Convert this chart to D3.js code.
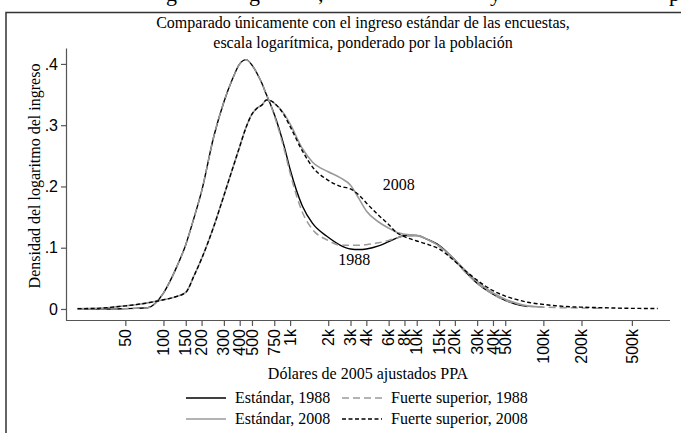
<!DOCTYPE html>
<html>
<head>
<meta charset="utf-8">
<script src="https://cdn.jsdelivr.net/npm/d3@7"></script>
<style>
  body { margin: 0; background: #fff; }
  svg { display: block; font-family: 'Liberation Serif', 'DejaVu Serif', serif; }
</style>
</head>
<body>
<div id="chart"></div>
<script>
// Income grid (2005 PPP dollars) shared by the density series
const income = [21, 30, 40, 50, 60, 75, 100, 125, 150, 175, 200, 250, 300, 350, 400, 450, 500, 550, 600, 650, 700, 750, 900,
  1000, 1250, 1500, 2000, 2500, 3000, 3500, 4000, 5000, 6000, 7000, 8000, 10000, 12000, 15000, 20000, 25000, 30000,
  40000, 50000, 60000, 75000, 100000, 150000, 200000, 300000, 500000, 800000];

// Estándar, 1988 (ends near 70k)
const std1988 = [0, 0, 0, 0.0005, 0.001, 0.002, 0.026, 0.065, 0.105, 0.150, 0.192, 0.282, 0.338, 0.375, 0.400, 0.407, 0.398, 0.384, 0.368, 0.350, 0.334, 0.318, 0.265,
  0.228, 0.168, 0.140, 0.117, 0.104, 0.098, 0.097, 0.098, 0.103, 0.110, 0.116, 0.120, 0.120, 0.114, 0.104, 0.080, 0.058, 0.042,
  0.024, 0.014, 0.008, 0.004];

// Fuerte superior, 1988
const top1988 = [0, 0, 0, 0.0005, 0.001, 0.002, 0.026, 0.065, 0.105, 0.150, 0.192, 0.282, 0.338, 0.375, 0.400, 0.407, 0.398, 0.384, 0.368, 0.350, 0.334, 0.316, 0.260,
  0.222, 0.158, 0.130, 0.112, 0.104, 0.104, 0.104, 0.105, 0.108, 0.112, 0.116, 0.119, 0.120, 0.114, 0.102, 0.078, 0.057, 0.042,
  0.024, 0.014, 0.009, 0.005, 0.003, 0.002, 0.0015, 0.001];

// Estándar, 2008 (ends near 100k)
const std2008 = [0.0005, 0.001, 0.003, 0.005, 0.007, 0.010, 0.015, 0.020, 0.027, 0.055, 0.082, 0.135, 0.185, 0.228, 0.265, 0.297, 0.318, 0.328, 0.333, 0.341, 0.340, 0.336, 0.318,
  0.302, 0.262, 0.240, 0.224, 0.214, 0.202, 0.180, 0.160, 0.142, 0.132, 0.125, 0.122, 0.120, 0.114, 0.103, 0.080, 0.060, 0.045,
  0.026, 0.016, 0.010, 0.005, 0.003];

// Fuerte superior, 2008
const top2008 = [0.0005, 0.001, 0.003, 0.005, 0.007, 0.010, 0.015, 0.020, 0.027, 0.055, 0.082, 0.135, 0.185, 0.228, 0.265, 0.297, 0.318, 0.328, 0.333, 0.341, 0.340, 0.336, 0.316,
  0.298, 0.258, 0.232, 0.210, 0.200, 0.196, 0.186, 0.173, 0.153, 0.138, 0.124, 0.118, 0.111, 0.106, 0.098, 0.078, 0.060, 0.047,
  0.030, 0.021, 0.016, 0.011, 0.0075, 0.004, 0.003, 0.002, 0.001, 0.0008];

// Axis ticks
const xTickValues = [50, 100, 150, 200, 300, 400, 500, 750, 1000, 2000, 3000, 4000, 6000, 8000, 10000, 15000, 20000,
  30000, 40000, 50000, 100000, 200000, 500000];
const xTickLabels = ['50', '100', '150', '200', '300', '400', '500', '750', '1k', '2k', '3k', '4k', '6k', '8k', '10k', '15k', '20k',
  '30k', '40k', '50k', '100k', '200k', '500k'];
const yTickValues = [0, 0.1, 0.2, 0.3, 0.4];
const yTickLabels = ['0', '.1', '.2', '.3', '.4'];

// Legend entries, title and the cut-off line of text above the figure
const seriesNames = ['Estándar, 1988', 'Fuerte superior, 1988', 'Estándar, 2008', 'Fuerte superior, 2008'];
const titleLines = ['Comparado únicamente con el ingreso estándar de las encuestas,', 'escala logarítmica, ponderado por la población'];
const cutGlyphs = ['g', 'g', ',', 'y', 'p'];

document.addEventListener('DOMContentLoaded', createChart);

function createChart() {
  const width = 681;
  const height = 433;
  const margin = { top: 48, right: 11, bottom: 113, left: 66 };
  const fontSize = '16px';

  const svg = d3.select('#chart').append('svg')
    .attr('width', width)
    .attr('height', height);

  const series = [
    { name: seriesNames[0], values: std1988, color: '#000', dash: null, width: 1.4 },
    { name: seriesNames[1], values: top1988, color: '#9a9a9a', dash: '7,4', width: 1.5 },
    { name: seriesNames[2], values: std2008, color: '#9a9a9a', dash: null, width: 1.6 },
    { name: seriesNames[3], values: top2008, color: '#000', dash: '4,2.5', width: 1.4 }
  ];

  // Scales
  const x = d3.scaleLog()
    .domain([17, 1e6])
    .range([margin.left, width - margin.right]);

  const y = d3.scaleLinear()
    .domain([-0.018, 0.426])
    .range([height - margin.bottom, margin.top]);

  // Page frame and clipped text of the previous line
  svg.append('path')
    .attr('d', `M6,${height}V12.5H${width}`)
    .attr('fill', 'none')
    .attr('stroke', '#333')
    .attr('stroke-width', 1.5);

  const glyphX = [166, 249, 318, 490, 669];
  svg.append('g')
    .selectAll('text')
    .data(cutGlyphs)
    .enter().append('text')
    .attr('x', (d, i) => glyphX[i])
    .attr('y', 1)
    .attr('font-size', '22px')
    .text(d => d);

  // Title
  svg.append('g')
    .selectAll('text')
    .data(titleLines)
    .enter().append('text')
    .attr('x', 363)
    .attr('y', (d, i) => 28 + i * 20)
    .attr('text-anchor', 'middle')
    .attr('font-size', fontSize)
    .text(d => d);

  // Curves
  const line = d3.line()
    .x((d, i) => x(income[i]))
    .y(d => y(d))
    .curve(d3.curveMonotoneX);

  svg.append('g')
    .selectAll('path')
    .data(series)
    .enter().append('path')
    .attr('d', d => line(d.values))
    .attr('fill', 'none')
    .attr('stroke', d => d.color)
    .attr('stroke-width', d => d.width)
    .attr('stroke-dasharray', d => d.dash);

  // Curve annotations
  svg.append('text').attr('x', x(5400)).attr('y', y(0.195)).attr('font-size', fontSize).text('2008');
  svg.append('text').attr('x', x(2400)).attr('y', y(0.072)).attr('font-size', fontSize).text('1988');

  // X axis
  const xAxis = svg.append('g')
    .attr('transform', `translate(0,${height - margin.bottom})`)
    .call(d3.axisBottom(x).tickValues(xTickValues).tickFormat((d, i) => xTickLabels[i]).tickSize(6).tickSizeOuter(0));
  xAxis.select('.domain').attr('d', `M${margin.left},0.5H${width - margin.right}`);
  xAxis.selectAll('text')
    .attr('font-family', null)
    .attr('font-size', fontSize)
    .attr('fill', '#000')
    .style('text-anchor', 'end')
    .attr('transform', 'rotate(-90)')
    .attr('x', -9)
    .attr('y', 0)
    .attr('dy', '0.32em');

  // Y axis
  const yAxis = svg.append('g')
    .attr('transform', `translate(${margin.left},0)`)
    .call(d3.axisLeft(y).tickValues(yTickValues).tickFormat((d, i) => yTickLabels[i]).tickSize(5).tickSizeOuter(0));
  yAxis.selectAll('text')
    .attr('font-family', null)
    .attr('font-size', fontSize)
    .attr('fill', '#000')
    .attr('x', -8);
  svg.selectAll('.domain, .tick line').attr('stroke', '#555').attr('stroke-width', 1.2);

  // Axis labels
  svg.append('text')
    .attr('transform', 'rotate(-90)')
    .attr('x', -176)
    .attr('y', 40)
    .attr('text-anchor', 'middle')
    .attr('font-size', fontSize)
    .text('Densidad del logaritmo del ingreso');

  svg.append('text')
    .attr('x', (margin.left + width - margin.right) / 2)
    .attr('y', 379)
    .attr('text-anchor', 'middle')
    .attr('font-size', fontSize)
    .text('Dólares de 2005 ajustados PPA');

  // Legend: two columns, two rows
  const legend = svg.append('g')
    .selectAll('g')
    .data(series)
    .enter().append('g')
    .attr('transform', (d, i) => `translate(${i % 2 === 0 ? 186 : 342},${i < 2 ? 398 : 419})`);

  legend.append('line')
    .attr('x1', 0)
    .attr('x2', 40)
    .attr('stroke', d => d.color)
    .attr('stroke-width', d => d.width)
    .attr('stroke-dasharray', d => d.dash);

  legend.append('text')
    .attr('x', 49)
    .attr('dy', '0.32em')
    .attr('font-size', fontSize)
    .text(d => d.name);
}
</script>
</body>
</html>
